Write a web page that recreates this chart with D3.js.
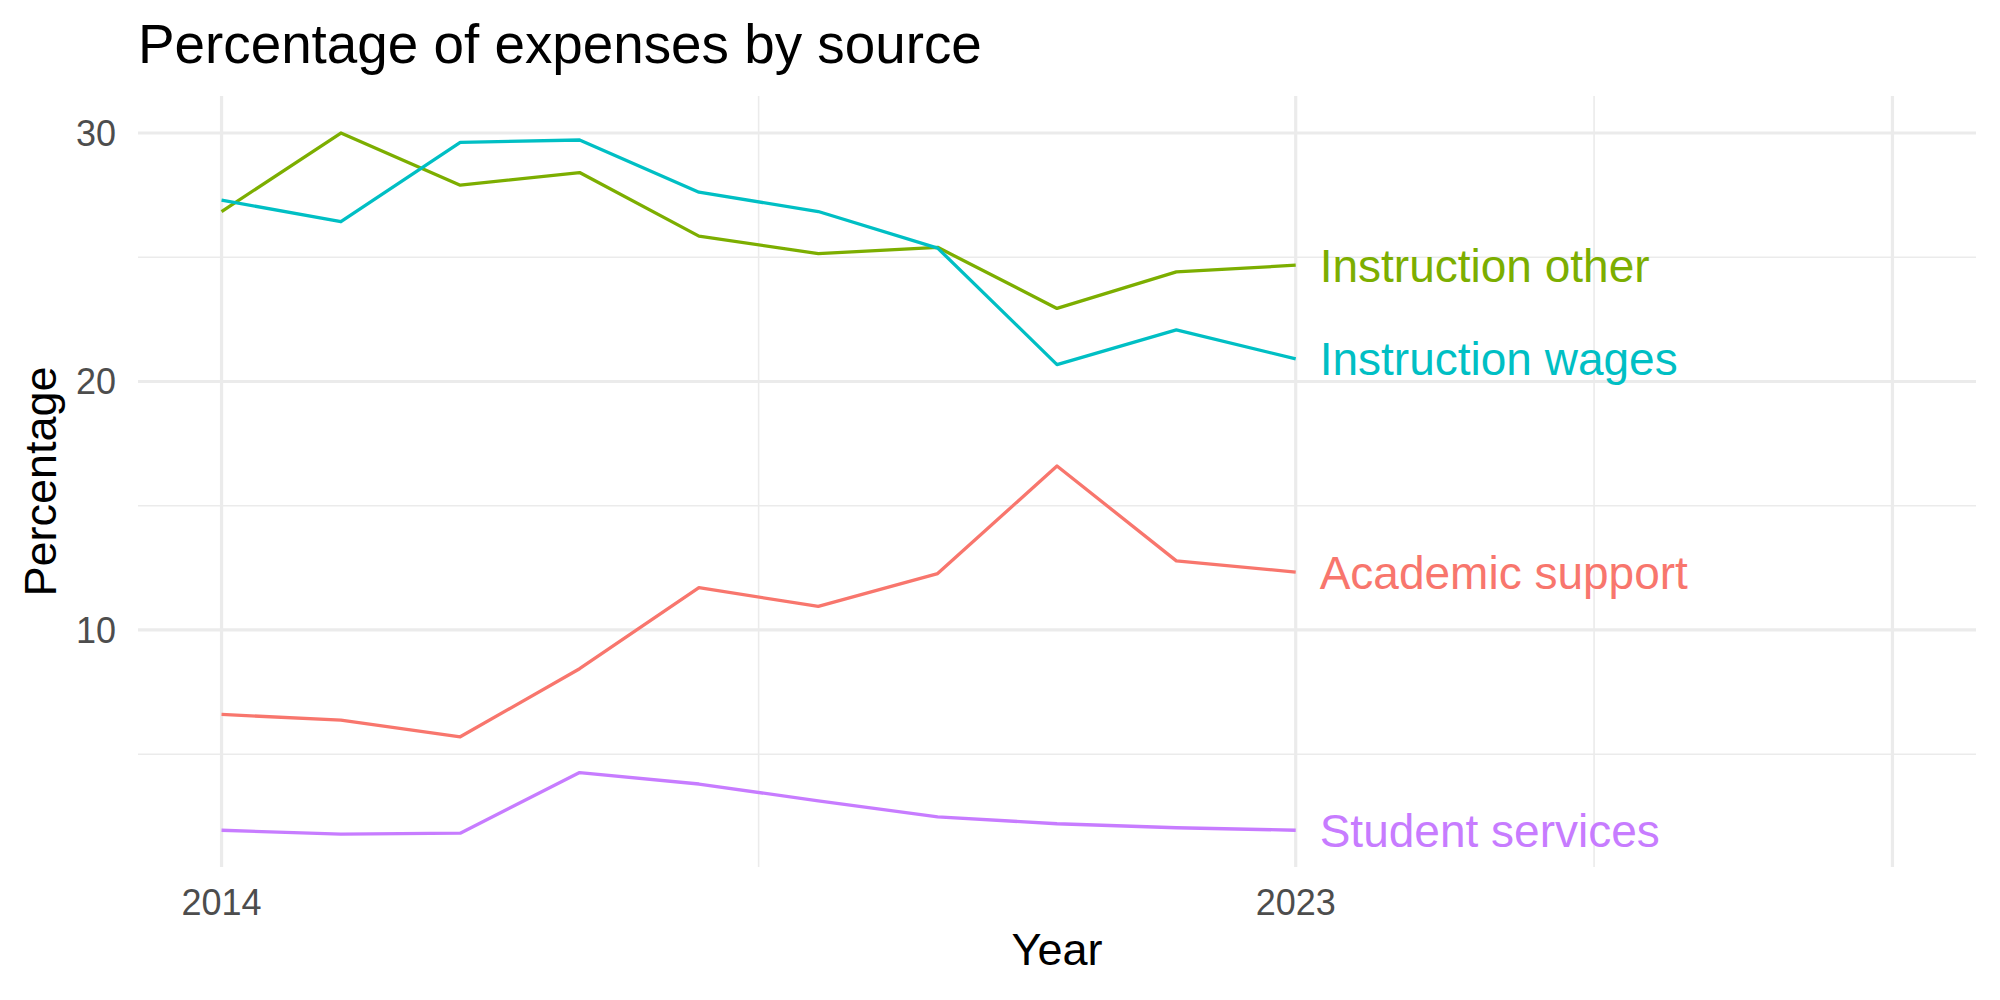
<!DOCTYPE html>
<meta charset="utf-8">
<style>
  body { margin: 0; background: #fff; }
  svg { display: block; font-family: "Liberation Sans", Arial, sans-serif; }
  .tick-label { fill: #4D4D4D; font-size: 36px; }
  .axis-title { fill: #000; font-size: 45px; }
  .title { fill: #000; font-size: 54.8px; }
</style>
<script src="https://d3js.org/d3.v7.min.js"></script>
<body>
<div id="chart"></div>
<script>
// data
var years = [2014, 2015, 2016, 2017, 2018, 2019, 2020, 2021, 2022, 2023];
var academicSupport  = [6.6, 6.37, 5.7, 8.44, 11.7, 10.95, 12.27, 16.6, 12.78, 12.33];
var instructionOther = [26.84, 30.0, 27.9, 28.41, 25.85, 25.15, 25.4, 22.94, 24.41, 24.68];
var instructionWages = [27.3, 26.43, 29.62, 29.72, 27.62, 26.84, 25.37, 20.68, 22.08, 20.91];
var studentServices  = [1.94, 1.78, 1.82, 4.26, 3.8, 3.12, 2.48, 2.2, 2.04, 1.94];

var seriesNames  = ["Academic support", "Instruction other", "Instruction wages", "Student services"];
var seriesColors = ["#F8766D", "#7CAE00", "#00BFC4", "#C77CFF"];
var seriesValues = [academicSupport, instructionOther, instructionWages, studentServices];

var yBreaks = [10, 20, 30];
var yMinor = [5, 15, 25];
var xBreaks = [2014, 2023, 2028];
var xLabels = ["2014", "2023", ""];
var xMinor = [2018.5, 2025.5];

var W = 2000, H = 1000;
var panel = {left: 138, right: 1976, top: 96, bottom: 867};

var svg = d3.select("#chart").append("svg")
    .attr("width", W)
    .attr("height", H);

// x: data 2014..2028 with 5% expansion
var x = d3.scaleLinear()
    .domain([2014 - 0.7, 2028 + 0.7])
    .range([panel.left, panel.right]);

// y: data range with 5% expansion
var y = d3.scaleLinear()
    .domain([0.46, 31.49])
    .range([panel.bottom, panel.top]);

var grid = svg.append("g");

// minor gridlines
grid.selectAll(".ymin").data(yMinor).enter().append("line")
    .attr("x1", panel.left).attr("x2", panel.right)
    .attr("y1", function(d) { return y(d); }).attr("y2", function(d) { return y(d); })
    .attr("stroke", "#EBEBEB").attr("stroke-width", 1.6);
grid.selectAll(".xmin").data(xMinor).enter().append("line")
    .attr("y1", panel.top).attr("y2", panel.bottom)
    .attr("x1", function(d) { return x(d); }).attr("x2", function(d) { return x(d); })
    .attr("stroke", "#EBEBEB").attr("stroke-width", 1.6);

// major gridlines
grid.selectAll(".ymaj").data(yBreaks).enter().append("line")
    .attr("x1", panel.left).attr("x2", panel.right)
    .attr("y1", function(d) { return y(d); }).attr("y2", function(d) { return y(d); })
    .attr("stroke", "#EBEBEB").attr("stroke-width", 3.2);
grid.selectAll(".xmaj").data(xBreaks).enter().append("line")
    .attr("y1", panel.top).attr("y2", panel.bottom)
    .attr("x1", function(d) { return x(d); }).attr("x2", function(d) { return x(d); })
    .attr("stroke", "#EBEBEB").attr("stroke-width", 3.2);

// tick labels
svg.selectAll(".ylab").data(yBreaks).enter().append("text")
    .attr("class", "tick-label")
    .attr("x", panel.left - 22)
    .attr("y", function(d) { return y(d) + 13; })
    .attr("text-anchor", "end")
    .text(function(d) { return d; });

svg.selectAll(".xlab").data(xBreaks).enter().append("text")
    .attr("class", "tick-label")
    .attr("x", function(d) { return x(d); })
    .attr("y", 915)
    .attr("text-anchor", "middle")
    .text(function(d, i) { return xLabels[i]; });

// lines
var line = d3.line()
    .x(function(d, i) { return x(years[i]); })
    .y(function(d) { return y(d); });

svg.append("g").selectAll("path")
    .data(seriesValues)
    .enter().append("path")
    .attr("d", line)
    .attr("fill", "none")
    .attr("stroke", function(d, i) { return seriesColors[i]; })
    .attr("stroke-width", 3.3)
    .attr("stroke-linejoin", "round");

// end labels
svg.append("g").selectAll("text")
    .data(seriesValues)
    .enter().append("text")
    .attr("x", x(years[years.length - 1]) + 24)
    .attr("y", function(d) { return y(d[d.length - 1]) + 16.5; })
    .attr("fill", function(d, i) { return seriesColors[i]; })
    .style("font-size", "46px")
    .text(function(d, i) { return seriesNames[i]; });

// axis titles
svg.append("text")
    .attr("class", "axis-title")
    .attr("x", (panel.left + panel.right) / 2)
    .attr("y", 965)
    .attr("text-anchor", "middle")
    .text("Year");

svg.append("text")
    .attr("class", "axis-title")
    .attr("transform", "translate(56," + (panel.top + panel.bottom) / 2 + ") rotate(-90)")
    .attr("text-anchor", "middle")
    .text("Percentage");

// title
svg.append("text")
    .attr("class", "title")
    .attr("x", 138)
    .attr("y", 63)
    .text("Percentage of expenses by source");
</script>
</body>
